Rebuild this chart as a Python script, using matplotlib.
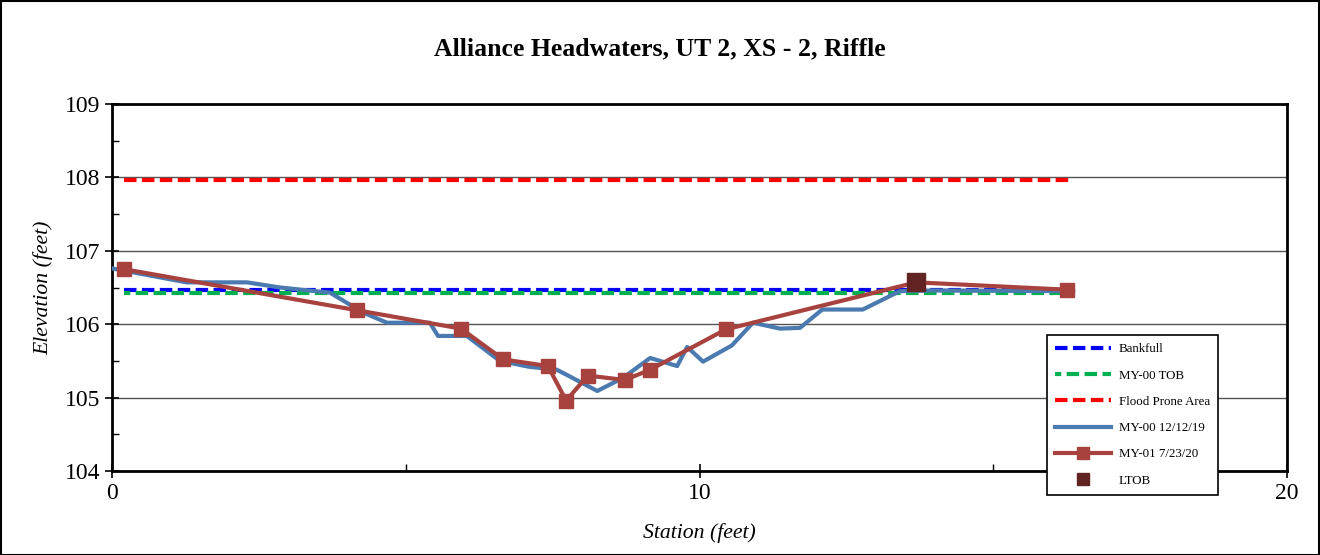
import matplotlib.pyplot as plt
from matplotlib.patches import Rectangle
from matplotlib.ticker import MultipleLocator

# MY-00 survey (12/12/19)
my00_station = [0.0, 1.27, 2.30, 2.86, 3.71, 4.27, 4.68, 5.41, 5.55, 6.04, 6.60,
                7.10, 7.57, 7.74, 8.26, 8.70, 9.16, 9.62, 9.79, 10.06, 10.55,
                10.91, 11.37, 11.71, 12.09, 12.78, 13.41, 14.00, 16.36]
my00_elev = [106.76, 106.57, 106.57, 106.50, 106.43, 106.16, 106.02, 106.02, 105.84,
             105.84, 105.50, 105.42, 105.38, 105.31, 105.09, 105.27, 105.54, 105.43,
             105.69, 105.49, 105.71, 106.02, 105.94, 105.95, 106.20, 106.20, 106.45,
             106.46, 106.45]

# MY-01 survey (7/23/20)
my01_station = [0.20, 4.17, 5.94, 6.66, 7.42, 7.73, 8.10, 8.73, 9.16, 10.45, 13.69, 16.26]
my01_elev = [106.75, 106.19, 105.94, 105.52, 105.43, 104.96, 105.30, 105.24, 105.38,
             105.93, 106.57, 106.47]

ltob_station = [13.69]
ltob_elev = [106.57]

# reference elevations
line_station = [0.2, 16.3]
bankfull_elev = 106.47
tob_elev = 106.43
flood_prone_elev = 107.97

plt.rcParams['font.family'] = ['Liberation Serif', 'DejaVu Serif']

fig = plt.figure(figsize=(13.2, 5.55), dpi=100)
ax = fig.add_axes([112 / 1320, 84 / 555, 1175 / 1320, 367 / 555])

fig.patches.append(Rectangle((0.001, 0.0), 0.998, 0.998, transform=fig.transFigure,
                             fill=False, edgecolor='black', linewidth=1.5))

ax.plot(line_station, [bankfull_elev] * 2, color='#0000ff', linestyle=(0, (3, 1.3)),
        linewidth=3, label='Bankfull', zorder=3)
ax.plot(line_station, [tob_elev] * 2, color='#00b050', linestyle=(1.5, (3, 1.3)),
        linewidth=3, label='MY-00 TOB', zorder=3)
ax.plot(line_station, [flood_prone_elev] * 2, color='#ff0000', linestyle=(0, (3, 1.3)),
        linewidth=3, label='Flood Prone Area', zorder=3)
ax.plot(my00_station, my00_elev, color='#4a7ab0', linewidth=3, label='MY-00 12/12/19', zorder=4)
ax.plot(my01_station, my01_elev, color='#a8423f', linewidth=3, marker='s', markersize=10,
        label='MY-01 7/23/20', zorder=5)
ax.plot(ltob_station, ltob_elev, linestyle='none', marker='s', markersize=13,
        color='#622423', label='LTOB', zorder=6)

ax.set_xlim(0, 20)
ax.set_ylim(104, 109)
ax.xaxis.set_major_locator(MultipleLocator(10))
ax.xaxis.set_minor_locator(MultipleLocator(5))
ax.yaxis.set_major_locator(MultipleLocator(1))
ax.yaxis.set_minor_locator(MultipleLocator(0.5))
ax.tick_params(which='major', direction='inout', length=10, width=1.2, labelsize=17)
ax.tick_params(which='minor', direction='in', length=5, width=1)
ax.grid(axis='y', which='major', color='#555555', linewidth=1)
for side in ax.spines.values():
    side.set_linewidth(2)

ax.set_xlabel('Station (feet)', fontsize=15.7, fontstyle='italic', labelpad=14)
ax.set_ylabel('Elevation (feet)', fontsize=15.7, fontstyle='italic', labelpad=8)
fig.text(0.5, 0.912, 'Alliance Headwaters, UT 2, XS - 2, Riffle', ha='center', va='center',
         fontsize=18.5, fontweight='bold')

leg = ax.legend(loc='upper left', bbox_to_anchor=(1047 / 1320, 220 / 555),
                bbox_transform=fig.transFigure, fontsize=9.3, frameon=True, fancybox=False,
                edgecolor='black', framealpha=1, handlelength=4.3, labelspacing=1.1,
                borderpad=0.65, handletextpad=0.6, borderaxespad=0)
leg.get_frame().set_linewidth(1.2)
leg.set_zorder(10)
leg.legend_handles[4].set_markersize(8)
leg.legend_handles[5].set_markersize(8)

fig.savefig('out.png', dpi=100)
